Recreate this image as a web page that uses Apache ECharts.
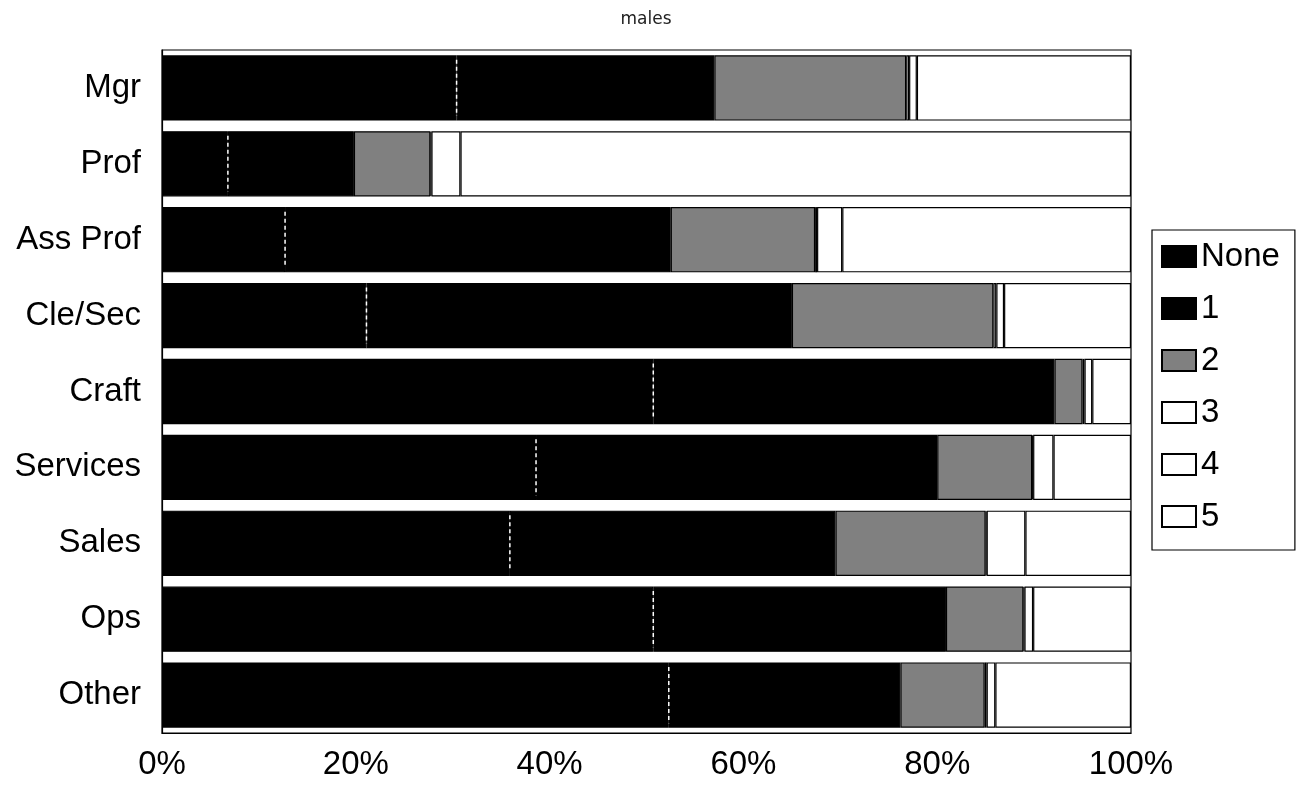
<!DOCTYPE html>
<html>
<head>
<meta charset="utf-8">
<title>males</title>
<script src="https://cdn.jsdelivr.net/npm/echarts@6/dist/echarts.min.js"></script>
<style>
  html, body { margin: 0; padding: 0; background: #fff; }
  #chart { width: 1306px; height: 787px; }
</style>
</head>
<body>
<div id="chart"></div>
<script>
// Occupational groups, top to bottom
const categories = ['Mgr', 'Prof', 'Ass Prof', 'Cle/Sec', 'Craft', 'Services', 'Sales', 'Ops', 'Other'];

// Share (%) of each group in each class
const seriesNames = ['None', '1', '2', '3', '4', '5'];
const valsNone  = [30.4, 6.8, 12.7, 21.1, 50.7, 38.6, 35.9, 50.7, 52.3];
const valsOne   = [26.6, 13.0, 39.8, 43.9, 41.4, 41.4, 33.6, 30.2, 23.9];
const valsTwo   = [19.8, 7.9, 14.9, 20.8, 2.9, 9.8, 15.5, 8.0, 8.7];
const valsThree = [0.3, 0.1, 0.2, 0.3, 0.2, 0.1, 0.1, 0.1, 0.2];
const valsFour  = [0.8, 3.0, 2.6, 0.8, 0.8, 2.1, 4.0, 0.9, 0.9];
const valsFive  = [22.1, 69.2, 29.8, 13.1, 4.0, 8.0, 10.9, 10.1, 14.0];

// Axis tick values
const xTicks = { min: 0, max: 100, step: 20 };

const seriesValues = [valsNone, valsOne, valsTwo, valsThree, valsFour, valsFive];
const fills = ['#000000', '#000000', '#808080', '#ffffff', '#ffffff', '#ffffff'];

const FONT = '"Liberation Sans", Arial, sans-serif';
const FONT_SIZE = 33;

const barSeries = seriesNames.map((name, k) => ({
  name: name,
  type: 'bar',
  stack: 'total',
  barCategoryGap: '14%',
  data: seriesValues[k],
  itemStyle: {
    color: fills[k],
    borderColor: '#000',
    borderWidth: 1.2
  },
  emphasis: { disabled: true }
}));

// white dotted divider at the None / 1 boundary
const dividerSeries = {
  type: 'custom',
  name: 'divider',
  silent: true,
  z: 5,
  data: valsNone.map((v, i) => [v, i]),
  renderItem: function (params, api) {
    const p = api.coord([api.value(0), api.value(1)]);
    const band = api.size([0, 1])[1];
    const h = band * 0.74;
    return {
      type: 'line',
      shape: { x1: p[0], y1: p[1] - h / 2, x2: p[0], y2: p[1] + h / 2 },
      style: { stroke: '#ffffff', lineWidth: 1.5, lineDash: [4, 3] }
    };
  }
};

const chart = echarts.init(document.getElementById('chart'), null, { renderer: 'canvas' });

chart.setOption({
  animation: false,
  backgroundColor: '#ffffff',
  title: {
    text: 'males',
    left: 641,
    top: 6,
    textAlign: 'center',
    textStyle: {
      fontFamily: '"DejaVu Sans", sans-serif',
      fontSize: 17,
      fontWeight: 'normal',
      color: '#222'
    }
  },
  legend: {
    data: seriesNames,
    orient: 'vertical',
    left: 1152,
    top: 230,
    padding: [10, 15, 17, 9],
    itemWidth: 34,
    itemHeight: 21,
    itemGap: 19,
    itemTextGap: 5,
    borderColor: '#000',
    borderWidth: 1.2,
    icon: 'rect',
    textStyle: { fontFamily: FONT, fontSize: FONT_SIZE, color: '#000' }
  },
  grid: {
    left: 162,
    right: 175,
    top: 50,
    bottom: 54,
    show: true,
    borderColor: '#000',
    borderWidth: 1.2,
    backgroundColor: 'transparent'
  },
  xAxis: {
    type: 'value',
    min: xTicks.min,
    max: xTicks.max,
    interval: xTicks.step,
    axisLine: { show: true, lineStyle: { color: '#000', width: 1.2 } },
    axisTick: { show: false },
    splitLine: { show: false },
    axisLabel: {
      margin: 15,
      formatter: '{value}%',
      fontFamily: FONT,
      fontSize: FONT_SIZE,
      color: '#000'
    }
  },
  yAxis: {
    type: 'category',
    data: categories,
    inverse: true,
    z: 10,
    axisLine: { show: true, lineStyle: { color: '#000', width: 1.2 } },
    axisTick: { show: false },
    axisLabel: {
      margin: 21,
      fontFamily: FONT,
      fontSize: FONT_SIZE,
      color: '#000'
    }
  },
  series: barSeries.concat([dividerSeries])
});
</script>
</body>
</html>
